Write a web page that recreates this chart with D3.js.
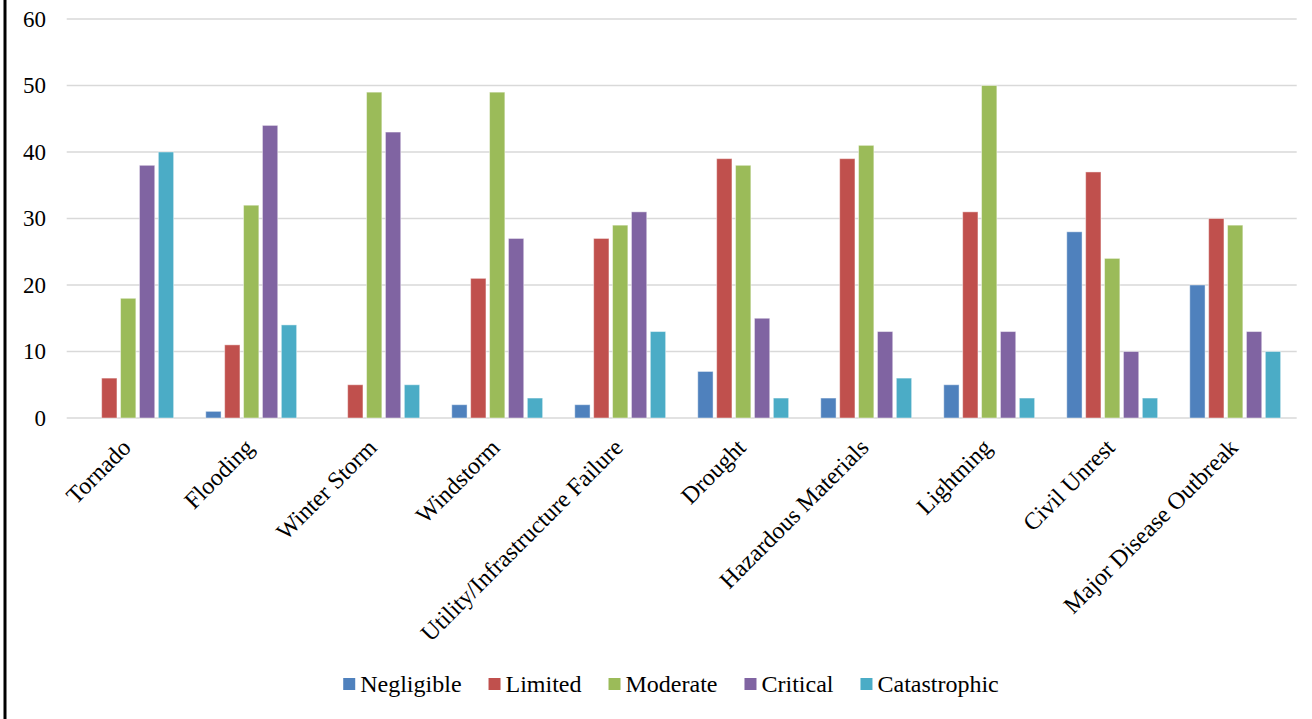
<!DOCTYPE html>
<html>
<head>
<meta charset="utf-8">
<script src="https://cdn.jsdelivr.net/npm/d3@7"></script>
<style>
  html, body { margin: 0; padding: 0; background: #fff; }
  svg { display: block; }
</style>
</head>
<body>
<svg id="chart" width="1312" height="719"></svg>
<script>
const categories = ["Tornado", "Flooding", "Winter Storm", "Windstorm", "Utility/Infrastructure Failure",
  "Drought", "Hazardous Materials", "Lightning", "Civil Unrest", "Major Disease Outbreak"];
const seriesNames = ["Negligible", "Limited", "Moderate", "Critical", "Catastrophic"];
const negligible   = [0, 1, 0, 2, 2, 7, 3, 5, 28, 20];
const limited      = [6, 11, 5, 21, 27, 39, 39, 31, 37, 30];
const moderate     = [18, 32, 49, 49, 29, 38, 41, 50, 24, 29];
const critical     = [38, 44, 43, 27, 31, 15, 13, 13, 10, 13];
const catastrophic = [40, 14, 5, 3, 13, 3, 6, 3, 3, 10];
const yTicks = [0, 10, 20, 30, 40, 50, 60];
const colors = ["#4F81BD", "#C0504D", "#9BBB59", "#8064A2", "#4BACC6"];

const seriesValues = [negligible, limited, moderate, critical, catastrophic];
const FONT = '"Liberation Serif", "Times New Roman", "DejaVu Serif", serif';

const svg = d3.select("#chart");
const plot = { left: 66.7, right: 1296.7, top: 19, bottom: 418 };

// left frame line
svg.append("line")
  .attr("x1", 5).attr("x2", 5).attr("y1", 0).attr("y2", 719)
  .attr("stroke", "#000").attr("stroke-width", 3);

const y = d3.scaleLinear().domain([0, 60]).range([plot.bottom, plot.top]);
const x0 = d3.scaleBand().domain(categories).range([plot.left, plot.right])
  .paddingInner(0.232).paddingOuter(0.116);
const x1 = d3.scaleBand().domain(seriesNames).range([0, x0.bandwidth()])
  .paddingInner(0.19).paddingOuter(0.095);
const color = d3.scaleOrdinal().domain(seriesNames).range(colors);

// gridlines
svg.append("g").selectAll("line").data(yTicks).join("line")
  .attr("x1", plot.left).attr("x2", plot.right)
  .attr("y1", d => y(d)).attr("y2", d => y(d))
  .attr("stroke", "#d9d9d9").attr("stroke-width", 1.5);

// y axis labels
const yAxis = d3.axisLeft(y).tickValues(yTicks).tickSize(0).tickPadding(0);
const yg = svg.append("g").attr("transform", `translate(46,0)`).call(yAxis)
  .attr("font-family", null).attr("font-size", null);
yg.select(".domain").remove();
yg.selectAll("text")
  .style("font-family", FONT)
  .style("font-size", "23px")
  .attr("fill", "#000");

// bars
const groups = svg.append("g").selectAll("g").data(categories).join("g")
  .attr("transform", d => `translate(${x0(d)},0)`);
groups.selectAll("rect")
  .data((c, i) => seriesNames.map((s, j) => ({ s, v: seriesValues[j][i] })))
  .join("rect")
  .attr("x", d => x1(d.s))
  .attr("width", x1.bandwidth())
  .attr("y", d => y(d.v))
  .attr("height", d => y(0) - y(d.v))
  .attr("fill", d => color(d.s))
  .attr("stroke", "rgba(255,255,255,0.45)")
  .attr("stroke-width", 1);

// x labels
svg.append("g").selectAll("text").data(categories).join("text")
  .attr("transform", d => `translate(${x0(d) + x0.bandwidth() / 2 + 4},449) rotate(-45)`)
  .attr("text-anchor", "end")
  .style("font-family", FONT)
  .style("font-size", "24px")
  .attr("fill", "#000")
  .text(d => d);

// legend
const legend = svg.append("g");
const items = legend.selectAll("g").data(seriesNames).join("g");
items.append("rect").attr("width", 12).attr("height", 12).attr("y", 678)
  .attr("fill", d => color(d));
items.append("text").attr("x", 17).attr("y", 692)
  .style("font-family", FONT)
  .style("font-size", "24px")
  .attr("fill", "#000")
  .text(d => d);
let cx = 0;
items.each(function () {
  const g = d3.select(this);
  g.attr("transform", `translate(${cx},0)`);
  const w = g.select("text").node().getComputedTextLength();
  cx += 17 + w + 27;
});
const totalW = cx - 27;
legend.attr("transform", `translate(${671 - totalW / 2},0)`);
</script>
</body>
</html>
